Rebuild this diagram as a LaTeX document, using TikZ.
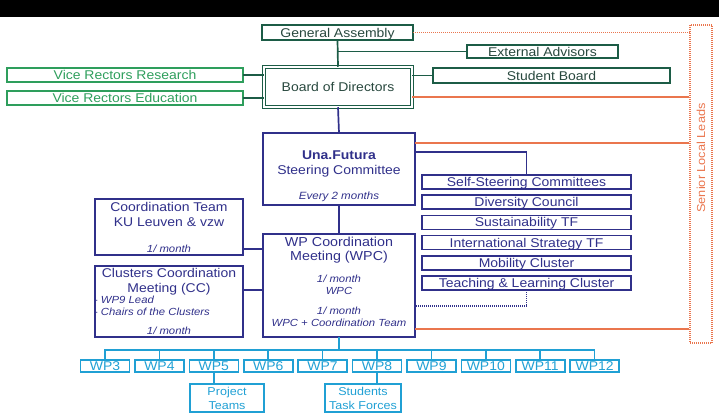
\documentclass[tikz,border=0pt]{standalone}
\usepackage{fontspec}
\setmainfont{Liberation Sans}[FakeStretch=1.1]
\usetikzlibrary{positioning}

\definecolor{dkgreen}{RGB}{28,92,70}
\definecolor{gtext}{RGB}{40,72,62}
\definecolor{ltgreen}{RGB}{46,158,92}
\definecolor{navy}{RGB}{48,48,138}
\definecolor{slorange}{RGB}{234,118,78}
\definecolor{wpcyan}{RGB}{32,160,212}
\newcommand{\fsz}[2]{\fontsize{#1}{#2}\selectfont}

\tikzset{
  orgbox/.style={draw, line width=1.6pt, inner sep=0pt, outer sep=0pt, font=\fsz{12.7}{15}},
  oneline/.style={text height=9.1pt, text depth=0pt},
  greenbox/.style={orgbox, oneline, draw=dkgreen, text=gtext},
  vrbox/.style={orgbox, oneline, draw=ltgreen, text=ltgreen, minimum width=236pt, minimum height=14pt},
  navybox/.style={orgbox, draw=navy, text=navy},
  sidebox/.style={navybox, oneline, minimum width=209pt, minimum height=14pt},
  wpframe/.style={orgbox, draw=wpcyan, text=wpcyan},
  wpbox/.style={wpframe, oneline, minimum width=49pt, minimum height=12pt},
  title/.style={font=\fsz{12.7}{15}, text=navy, align=center, inner sep=0pt},
  note/.style={font=\fsz{10.3}{12}\itshape, text=navy, align=center, inner sep=0pt},
  greenlink/.style={dkgreen, line width=1.7pt},
  navylink/.style={navy, line width=1.7pt},
  orangelink/.style={slorange, line width=1.6pt},
  wplink/.style={wpcyan, line width=1.6pt},
  dots/.style={dash pattern=on 1pt off 1pt},
}

\begin{document}
\begin{tikzpicture}[x=1pt, y=-1pt]
\useasboundingbox (0,0) rectangle (719,417);
\fill[black] (0,0) rectangle (719,17);

% governance
\node[greenbox, minimum width=151pt, minimum height=15pt] (ga) at (337.5,32.5) {General Assembly};
\node[greenbox, minimum width=151pt, minimum height=13pt] (ea) at (542.5,51.5) {External Advisors};
\node[greenbox, double, double distance=1.6pt, line width=1.1pt, minimum width=148.5pt, minimum height=40.5pt] (board) at (338,87) {Board of Directors};
\node[vrbox] (vrr) at (125,75) {Vice Rectors Research};
\node[vrbox] (vre) at (125,98) {Vice Rectors Education};
\node[greenbox, minimum width=237pt, minimum height=15pt] (sb) at (551.5,75.5) {Student Board};

\draw[greenlink] (ga.south) -- (board.north);
\draw[greenlink] (ea.west) -| (ga.south);
\draw[greenlink] (vrr.east) -- (vrr.east -| board.west);
\draw[greenlink] (vre.east) -- (vre.east -| board.west);
\draw[greenlink] (sb.west) -- (sb.west -| board.east);

% steering committee
\node[navybox, minimum width=152pt, minimum height=72pt] (sc) at (339,169) {};
\node[title, below=17.5pt of sc.north] (sc-lbl) {\textbf{Una.Futura}\\Steering Committee\\[10pt]{\fsz{10.5}{12}\itshape Every 2 months}};

% side committees
\node[sidebox] (ss) at (526.5,182) {Self-Steering Committees};
\node[sidebox, below=6.2pt of ss] (dc) {Diversity Council};
\node[sidebox, below=6.2pt of dc] (st) {Sustainability TF};
\node[sidebox, below=6.2pt of st] (is) {International Strategy TF};
\node[sidebox, below=6.2pt of is] (mc) {Mobility Cluster};
\node[sidebox, below=6.2pt of mc] (tl) {Teaching \& Learning Cluster};

% coordination
\node[navybox, minimum width=152pt, minimum height=103pt] (wpc) at (339,285.5) {};
\node[title, font=\fsz{13}{14.5}, below=2.5pt of wpc.north] (wpc-lbl) {WP Coordination\\Meeting (WPC)};
\node[note, below=11pt of wpc-lbl] (wpc-note) {1/ month\\WPC\\[8pt]1/ month\\WPC + Coordination Team};

\node[navybox, minimum width=148pt, minimum height=56pt] (ct) at (169,227) {};
\node[title, below=3.5pt of ct.north] (ct-lbl) {Coordination Team\\KU Leuven \& vzw};
\node[note, above=2.5pt of ct.south] (ct-note) {1/ month};

\node[navybox, minimum width=148pt, minimum height=71pt] (cc) at (169,301.5) {};
\node[title, below=2.5pt of cc.north] (cc-lbl) {Clusters Coordination\\Meeting (CC)};
\node[note, align=left, anchor=north west] (cc-list) at ([xshift=-1pt, yshift=-30pt]cc.north west) {\upshape-\hspace{3pt}\itshape WP9 Lead\\\upshape-\hspace{3pt}\itshape Chairs of the Clusters};
\node[note, above=2.5pt of cc.south] (cc-note) {1/ month};

\draw[navylink] (board.south) -- (sc.north);
\draw[navylink] (sc.south) -- (wpc.north);
\draw[navylink] ([yshift=17pt]sc.east) -| (ss.north);
\coordinate (ctl) at ([yshift=-22pt]ct.east);
\draw[navylink] (ctl) -- (ctl -| wpc.west);
\coordinate (ccl) at ([yshift=11.5pt]cc.east);
\draw[navylink] (ccl) -- (ccl -| wpc.west);
\coordinate (tld) at ([yshift=-20.5pt]wpc.east);
\draw[navylink, dots] (tl.south) |- (tld);

% senior local leads
\node[draw=slorange, dots, line width=1.2pt, inner sep=0pt, minimum width=22pt, minimum height=318pt] (sll) at (701,184) {};
\node[rotate=90, text=slorange, font=\fsz{11.6}{13}, inner sep=0pt] (sll-lbl) at (701,158) {Senior Local Leads};
\draw[orangelink, dots] (ga.east) -- (ga.east -| sll.west);
\coordinate (bol) at ([yshift=-10pt]board.east);
\draw[orangelink] (bol) -- (bol -| sll.west);
\coordinate (scl) at ([yshift=26pt]sc.east);
\draw[orangelink] (scl) -- (scl -| sll.west);
\coordinate (wpl) at ([yshift=-43.5pt]wpc.east);
\draw[orangelink] (wpl) -- (wpl -| sll.west);

% work packages
\foreach \n [count=\i from 0] in {3,...,12}
  \node[wpbox] (wp\n) at (105+54.4*\i, 366) {WP\n};
\coordinate (bus) at (339,350);
\draw[wplink] (wpc.south) -- (bus);
\foreach \n in {3,...,12}
  \draw[wplink] (wp\n.north) |- (bus);

\node[wpframe, align=center, font=\fsz{11.4}{14}, minimum width=74pt, minimum height=28pt] (pt) at (227,398) {Project\\Teams};
\node[wpframe, align=center, font=\fsz{11.4}{14}, minimum width=76pt, minimum height=28pt] (stf) at (363,398) {Students\\Task Forces};
\draw[wplink] (wp5.south) -- (wp5.south |- pt.north);
\draw[wplink] (wp8.south) -- (wp8.south |- stf.north);
\end{tikzpicture}
\end{document}
